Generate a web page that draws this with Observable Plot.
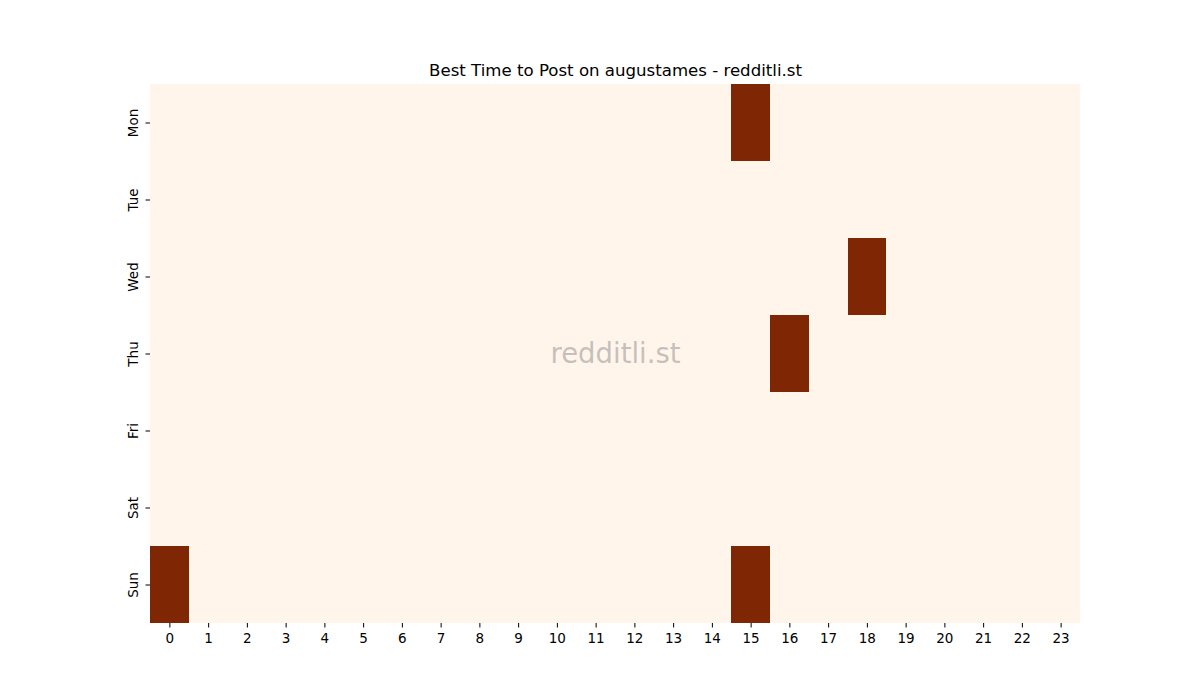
<!DOCTYPE html>
<html>
<head>
<meta charset="utf-8">
<script src="https://cdn.jsdelivr.net/npm/d3@7"></script>
<script src="https://cdn.jsdelivr.net/npm/@observablehq/plot@0.6"></script>
<style>
  body { margin: 0; background: #ffffff; }
  #chart svg { display: block; }
</style>
</head>
<body>
<div id="chart"></div>
<script>
const days = ["Mon", "Tue", "Wed", "Thu", "Fri", "Sat", "Sun"];
const hours = d3.range(0, 24);
const hourLabels = hours.map(String);
// 1 = best time (dark), 0 = otherwise
const monValues = [0,0,0,0,0,0,0,0,0,0,0,0,0,0,0,1,0,0,0,0,0,0,0,0];
const tueValues = [0,0,0,0,0,0,0,0,0,0,0,0,0,0,0,0,0,0,0,0,0,0,0,0];
const wedValues = [0,0,0,0,0,0,0,0,0,0,0,0,0,0,0,0,0,0,1,0,0,0,0,0];
const thuValues = [0,0,0,0,0,0,0,0,0,0,0,0,0,0,0,0,1,0,0,0,0,0,0,0];
const friValues = [0,0,0,0,0,0,0,0,0,0,0,0,0,0,0,0,0,0,0,0,0,0,0,0];
const satValues = [0,0,0,0,0,0,0,0,0,0,0,0,0,0,0,0,0,0,0,0,0,0,0,0];
const sunValues = [1,0,0,0,0,0,0,0,0,0,0,0,0,0,0,1,0,0,0,0,0,0,0,0];
const title = "Best Time to Post on augustames - redditli.st";
const watermark = "redditli.st";

const rows = [monValues, tueValues, wedValues, thuValues, friValues, satValues, sunValues];
const data = [];
rows.forEach((r, i) => r.forEach((v, h) => data.push({day: days[i], hour: hourLabels[h], value: v})));

const chart = Plot.plot({
  width: 1200,
  height: 700,
  marginLeft: 150,
  marginRight: 120,
  marginTop: 84,
  marginBottom: 77,
  style: {fontFamily: "DejaVu Sans", fontSize: "13px", color: "#000", background: "#fff"},
  x: {domain: hourLabels, padding: 0, round: false, label: null},
  y: {domain: days, padding: 0, round: false, label: null},
  color: {type: "linear", scheme: "oranges", domain: [0, 1]},
  marks: [
    Plot.cell(data, {x: "hour", y: "day", fill: "value", shapeRendering: "crispEdges"}),
    Plot.text([watermark], {frameAnchor: "middle", text: d => d, fontSize: 27.5, fill: "#8c8c8c", fillOpacity: 0.5}),
    Plot.text([title], {frameAnchor: "top", text: d => d, dy: -9, fontSize: 16.6, fill: "#000", lineAnchor: "bottom"}),
    Plot.axisX({tickSize: 4.5, tickPadding: 5, fontSize: 13.5, stroke: "#000"}),
    Plot.axisY({tickSize: 4.5, text: null, stroke: "#000"}),
    Plot.text(days, {y: d => d, text: d => d, frameAnchor: "left", dx: -17, rotate: -90, textAnchor: "middle", fontSize: 13.5, fill: "#000"})
  ]
});
document.getElementById("chart").appendChild(chart);
</script>
</body>
</html>
